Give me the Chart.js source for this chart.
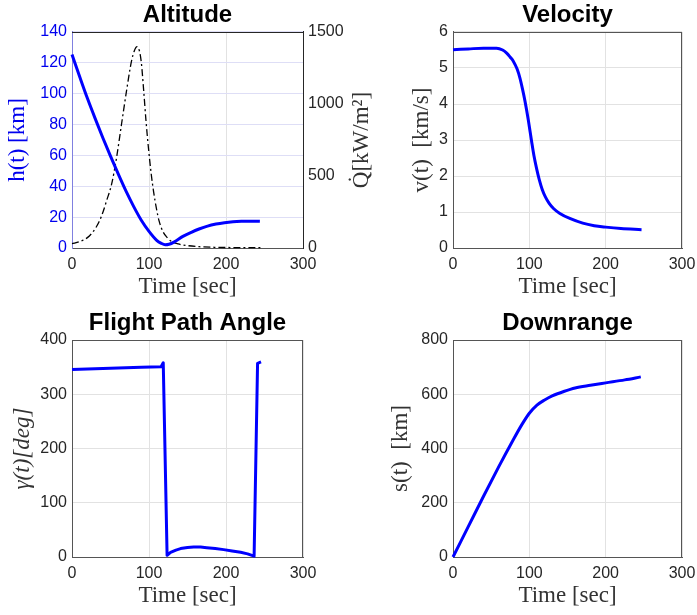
<!DOCTYPE html>
<html><head><meta charset="utf-8">
<script src="https://cdn.jsdelivr.net/npm/chart.js@4.4.1/dist/chart.umd.min.js"></script>
<style>
html,body{margin:0;padding:0;background:#fff;}
#wrap{position:relative;width:697px;height:615px;overflow:hidden;background:#fff;}
canvas{position:absolute;left:0;top:0;}
</style></head><body>
<div id="wrap">
<canvas id="cAlt" width="697" height="615"></canvas>
<canvas id="cVel" width="697" height="615"></canvas>
<canvas id="cFpa" width="697" height="615"></canvas>
<canvas id="cDr" width="697" height="615"></canvas>
</div>
<script>
// ---- tick labels ----
const timeTicks = [0, 100, 200, 300];
const altTicks = [0, 20, 40, 60, 80, 100, 120, 140];
const heatTicks = [0, 500, 1000, 1500];
const velTicks = [0, 1, 2, 3, 4, 5, 6];
const fpaTicks = [0, 100, 200, 300, 400];
const drTicks = [0, 200, 400, 600, 800];

// ---- series ----
const altT = [0,10,20,30,40,50,60,70,80,90,100,110,116,121,126,133,144,155,165,176,187,198,209,220,232,244];
const altH = [125.4,111,97,84,71.5,59.5,48,37,27,18,10.8,5,3,2.1,2.4,4,7.5,10.2,12.3,14.2,15.5,16.4,17,17.3,17.4,17.3];

const heatT = [0,10,20,27.6,35,40.5,45,51.3,57.8,64.2,70.7,77.2,81,84.5,87.5,90,93,96,99,103,106,109.5,113,118,124,129,138,148,165,185,210,247];
const heatQ = [30,45,72,115,180,254,330,440,625,856,1087,1296,1370,1398,1370,1290,1100,890,710,509,390,278,190,115,70,46,28,18,9,5,3,2];

const velT = [0,20,40,57,65,70,75,79,84,87.7,91,94.3,98.7,103,106,109.6,113,117,121,126,132,140,153,170,185,200,220,247];
const velV = [5.51,5.53,5.55,5.55,5.5,5.42,5.3,5.19,4.97,4.72,4.42,4.08,3.55,2.96,2.57,2.2,1.9,1.62,1.42,1.24,1.09,0.96,0.82,0.69,0.62,0.58,0.54,0.51];

const fpaT = [0,30,60,90,115.7,118.5,123.5,128,135,141,150,158,167,175,186,197,208,219,228,236.5,241,245.5];
const fpaG = [345.8,347.2,348.6,349.8,350.8,358,3,8.5,12.8,15.5,17.5,18.5,18.3,17.2,15.5,13.6,11.2,8.7,5.8,1.5,357,359.5];

const drT = [0,20,40,60,77,90,100,110,120,130,145,160,180,200,225,246];
const drS = [0,112,224,333,422,487,530,560,579,594,610,623,633,642,653,664];

// ---- helpers ----
const pts = (xs, ys) => xs.map((x, i) => ({x: x, y: ys[i]}));
const SANS = '"Liberation Sans", Arial, Helvetica, sans-serif';
const SERIF = '"Liberation Serif", "Times New Roman", serif';
Chart.defaults.font.family = SANS;
Chart.defaults.animation = false;

const framePlugin = {
  id: 'frame',
  beforeDatasetsDraw(chart, args, opts) {
    const a = chart.chartArea, ctx = chart.ctx;
    ctx.save();
    ctx.lineWidth = 1;
    ctx.strokeStyle = opts.color || '#555';
    ctx.beginPath();
    ctx.moveTo(Math.round(a.left), Math.round(a.top) + 0.5);
    ctx.lineTo(Math.round(a.right), Math.round(a.top) + 0.5);
    if (opts.right) {
      ctx.moveTo(Math.round(a.right) - 0.5, Math.round(a.top));
      ctx.lineTo(Math.round(a.right) - 0.5, Math.round(a.bottom));
    }
    ctx.stroke();
    ctx.restore();
  }
};

const sideLabelPlugin = {
  id: 'sideLabel',
  afterDraw(chart, args, opts) {
    if (!opts || !opts.text) return;
    const a = chart.chartArea, ctx = chart.ctx;
    ctx.save();
    ctx.translate(opts.x, (a.top + a.bottom) / 2);
    ctx.rotate(-Math.PI / 2);
    ctx.font = '23px ' + SERIF;
    ctx.fillStyle = opts.color || '#333';
    ctx.textAlign = 'center';
    ctx.textBaseline = 'middle';
    ctx.fillText(opts.text, 0, 0);
    ctx.restore();
  }
};

function xScale(ticksArr) {
  return {
    type: 'linear', position: 'bottom', min: 0, max: 300,
    afterBuildTicks: s => { s.ticks = ticksArr.map(v => ({value: v})); },
    afterFit: s => { s.height = 50; s.paddingLeft = 0; s.paddingRight = 0; },
    grid: {color: '#e2e2e2', drawTicks: false},
    border: {color: '#555', width: 1},
    ticks: {padding: 7, color: '#262626', font: {size: 16}, callback: v => String(v)},
    title: {display: true, text: 'Time [sec]', font: {family: SERIF, size: 23, lineHeight: 1}, color: '#333', padding: 0}
  };
}

function yScale(ticksArr, min, max, width, label, opt) {
  opt = opt || {};
  return {
    type: 'linear', position: opt.position || 'left', min: min, max: max,
    afterBuildTicks: s => { s.ticks = ticksArr.map(v => ({value: v})); },
    afterFit: s => { s.width = width; s.paddingTop = 0; s.paddingBottom = 0; },
    grid: {display: opt.grid !== false, color: opt.gridColor || '#e2e2e2', drawTicks: false},
    border: {color: opt.borderColor || '#555', width: 1},
    ticks: {padding: 5, color: opt.tickColor || '#262626', font: {size: 16}, callback: v => String(v)},
    title: label ? {display: true, text: label, font: {family: SERIF, size: 23, lineHeight: 1, style: opt.italic ? 'italic' : 'normal'}, color: opt.titleColor || '#333', padding: 0} : {display: false}
  };
}

function titleOpt(text) {
  return {display: true, text: text, fullSize: false, color: '#000',
    font: {family: SANS, size: 24, weight: 'bold', lineHeight: 1.2},
    padding: {top: 1.1, bottom: 2.1}};
}

const blueLine = (data, smooth) => ({
  data: data, borderColor: '#0000ff', borderWidth: 3, pointRadius: 0,
  fill: false, clip: false, tension: smooth ? 0.4 : 0,
  cubicInterpolationMode: smooth ? 'monotone' : 'default',
  borderJoinStyle: 'round', borderCapStyle: 'butt'
});

// ---- Altitude ----
new Chart(document.getElementById('cAlt'), {
  type: 'line',
  data: {datasets: [
    Object.assign(blueLine(pts(altT, altH), true), {yAxisID: 'y', order: 1}),
    {data: pts(heatT, heatQ), yAxisID: 'y1', borderColor: '#000', borderWidth: 1.3,
     borderDash: [7, 3, 2, 3], pointRadius: 0, fill: false, clip: false,
     tension: 0.4, cubicInterpolationMode: 'monotone', order: 2}
  ]},
  options: {
    responsive: false, animation: false, events: [],
    layout: {padding: {left: 6.5, top: 0, right: 344, bottom: 317}},
    scales: {
      x: xScale(timeTicks),
      y: yScale(altTicks, 0, 140, 65.5, 'h(t) [km]', {tickColor: '#0000ee', titleColor: '#0000ee', borderColor: '#8080e0', gridColor: '#dedef6'}),
      y1: yScale(heatTicks, 0, 1500, 50, null, {position: 'right', grid: false, borderColor: '#262626'})
    },
    plugins: {
      legend: {display: false}, tooltip: {enabled: false},
      title: titleOpt('Altitude'),
      frame: {color: '#262626', right: false},
      sideLabel: {text: 'Q\u0307[kW/m\u00B2]', x: 362, color: '#333'}
    }
  },
  plugins: [framePlugin, sideLabelPlugin]
});

// ---- Velocity ----
new Chart(document.getElementById('cVel'), {
  type: 'line',
  data: {datasets: [blueLine(pts(velT, velV), true)]},
  options: {
    responsive: false, animation: false, events: [],
    layout: {padding: {left: 410, top: 0, right: 15, bottom: 317}},
    scales: {x: xScale(timeTicks), y: yScale(velTicks, 0, 6, 43, 'v(t)  [km/s]')},
    plugins: {legend: {display: false}, tooltip: {enabled: false},
      title: titleOpt('Velocity'), frame: {color: '#555', right: true}}
  },
  plugins: [framePlugin]
});

// ---- Flight Path Angle ----
new Chart(document.getElementById('cFpa'), {
  type: 'line',
  data: {datasets: [blueLine(pts(fpaT, fpaG), false)]},
  options: {
    responsive: false, animation: false, events: [],
    layout: {padding: {left: 11, top: 308, right: 394, bottom: 8}},
    scales: {x: xScale(timeTicks), y: yScale(fpaTicks, 0, 400, 61, '\u03B3(t)[deg]', {italic: true})},
    plugins: {legend: {display: false}, tooltip: {enabled: false},
      title: titleOpt('Flight Path Angle'), frame: {color: '#555', right: true}}
  },
  plugins: [framePlugin]
});

// ---- Downrange ----
new Chart(document.getElementById('cDr'), {
  type: 'line',
  data: {datasets: [blueLine(pts(drT, drS), true)]},
  options: {
    responsive: false, animation: false, events: [],
    layout: {padding: {left: 389, top: 308, right: 15, bottom: 8}},
    scales: {x: xScale(timeTicks), y: yScale(drTicks, 0, 800, 64, 's(t)  [km]')},
    plugins: {legend: {display: false}, tooltip: {enabled: false},
      title: titleOpt('Downrange'), frame: {color: '#555', right: true}}
  },
  plugins: [framePlugin]
});
</script>
</body></html>
